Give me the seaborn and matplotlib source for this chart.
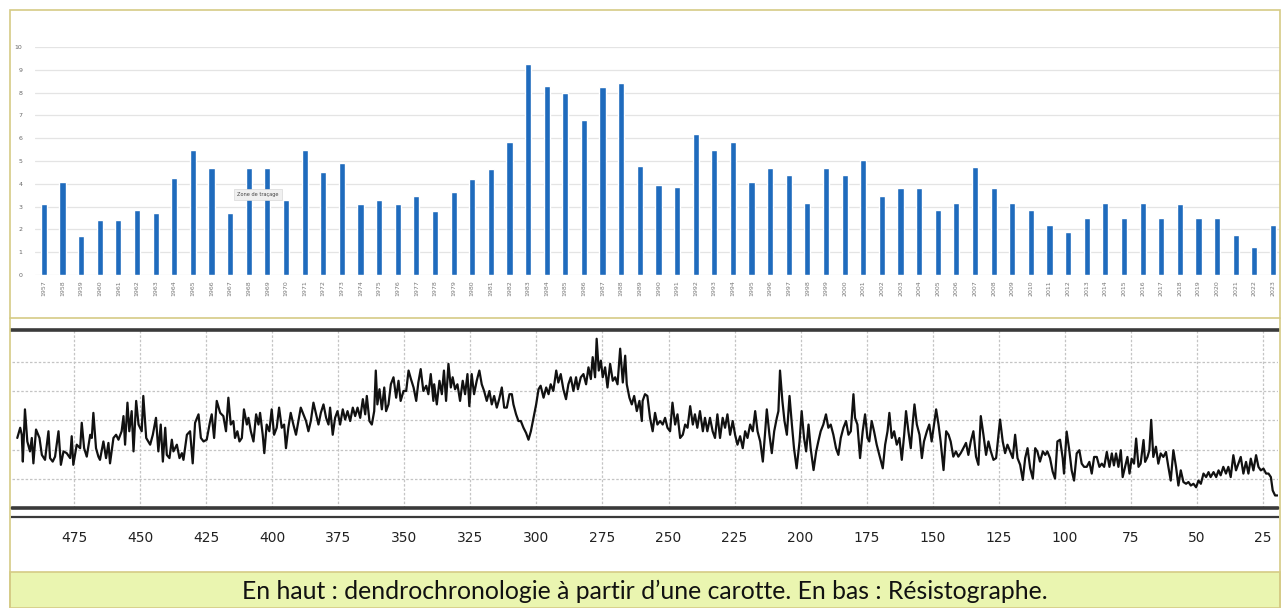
import numpy as np
import matplotlib
matplotlib.use("Agg")
import matplotlib.pyplot as plt
import seaborn as sns
from matplotlib.patches import Rectangle
from matplotlib.lines import Line2D
from matplotlib.ticker import MultipleLocator

# --- top panel: ring width per year ---
years = [str(y) for y in range(1957, 2024)]
widths = [3.1, 4.1, 1.7, 2.4, 2.4, 2.85, 2.7, 4.25, 5.5, 4.7,
          2.7, 4.7, 4.7, 3.3, 5.5, 4.5, 4.9, 3.1, 3.3, 3.1,
          3.45, 2.8, 3.65, 4.2, 4.65, 5.85, 9.25, 8.3, 8.0, 6.8,
          8.25, 8.4, 4.8, 3.95, 3.85, 6.2, 5.5, 5.85, 4.1, 4.7,
          4.4, 3.15, 4.7, 4.4, 5.05, 3.45, 3.8, 3.8, 2.85, 3.15,
          4.75, 3.8, 3.15, 2.85, 2.2, 1.9, 2.5, 3.15, 2.5, 3.15,
          2.5, 3.1, 2.5, 2.5, 1.75, 1.25, 2.2]

# --- bottom panel: resistograph trace ---
depth = [
    496.5, 495.4, 494.8, 494.4, 493.6, 492.7, 491.7, 491.0, 490.4, 489.4,
    488.1, 487.2, 486.0, 484.7, 484.1, 483.1, 482.2, 480.9, 480.0, 479.0,
    477.8, 476.5, 475.9, 475.3, 474.0, 472.7, 472.1, 471.2, 470.2, 468.9,
    468.3, 467.7, 466.7, 465.8, 465.2, 463.9, 462.9, 462.0, 461.4, 460.1,
    459.1, 458.2, 457.0, 456.3, 455.7, 454.8, 454.1, 453.2, 452.5, 451.5,
    450.6, 449.4, 448.8, 447.7, 446.9, 446.2, 445.2, 444.0, 443.1, 442.2,
    441.4, 440.5, 439.9, 438.9, 438.0, 437.4, 436.1, 435.1, 434.2, 433.6,
    432.3, 431.1, 430.1, 429.2, 427.9, 427.0, 426.0, 424.8, 423.5, 422.9,
    422.0, 421.0, 419.7, 418.5,
    417.5, 416.6, 415.7, 414.7, 414.1, 413.2, 412.4, 411.5, 410.7, 409.6,
    409.0, 408.1, 407.1, 406.1, 405.2, 404.6, 403.6, 403.0, 402.1, 401.1,
    400.2, 399.3, 398.3, 397.4, 396.4, 395.5, 394.8, 393.9, 393.0, 392.0,
    391.0, 390.1, 389.2, 388.2, 387.2, 386.3, 385.4, 384.4, 383.4, 382.5,
    381.6, 380.6, 379.6, 378.7, 378.1, 377.1, 376.2, 375.3, 374.3, 373.3,
    372.4, 371.5, 370.5, 369.5, 368.6, 367.7, 366.7, 365.7, 364.8, 364.2,
    363.2, 362.3, 361.4, 360.8, 360.2, 359.4, 358.5, 357.6, 356.9, 356.0,
    355.1, 354.1, 353.1, 352.2, 351.4, 350.3, 349.3, 348.4, 347.5, 346.5,
    345.5, 344.7, 343.8, 342.8, 341.7, 340.9, 340.0, 339.0,
    338.7, 337.7, 336.7, 335.8, 335.0, 334.2, 333.3, 332.4, 331.7, 330.8,
    329.9, 328.9, 327.9, 327.0, 326.1, 325.4, 324.5, 323.6, 322.6, 321.6,
    320.7, 319.8, 318.8, 317.8, 316.9, 316.0, 315.0, 314.1, 313.1, 312.2,
    311.2, 310.2, 309.3, 308.7, 307.7, 306.8, 305.9, 304.9, 303.9, 303.0,
    302.1, 301.1, 300.1, 299.2, 298.4, 297.3, 296.3, 295.4, 294.6, 293.6,
    292.5, 291.7, 290.8, 289.8, 288.8, 287.9, 287.0, 286.0, 285.0, 284.3,
    283.2, 282.2, 281.2, 280.3, 279.4, 278.7, 277.8, 277.2, 276.4, 275.6,
    274.9, 274.0, 273.1, 272.1, 271.1, 270.2, 269.3, 268.3, 267.3, 266.4,
    265.8, 264.8, 263.9, 263.0, 262.0, 261.0, 260.1,
    259.8, 258.9, 258.0, 257.0, 256.0, 255.1, 254.2, 253.2, 252.2, 251.3,
    250.4, 249.4, 248.5, 247.5, 246.6, 245.6, 244.6, 243.7, 242.8, 241.8,
    240.8, 240.0, 239.1, 238.1, 237.0, 236.2, 235.3, 234.3, 233.3, 232.4,
    231.5, 230.5, 229.5, 228.6, 227.7, 226.7, 225.7, 224.8, 223.9, 222.9,
    221.9, 221.0, 220.1, 219.1, 218.1, 217.2, 216.3, 215.3, 214.3, 213.4,
    212.8, 211.8, 210.9, 210.0, 209.0, 208.4, 207.8, 206.9, 206.1, 205.2,
    204.2, 203.3, 202.5, 201.5, 200.4, 199.6, 198.7, 197.9, 197.0, 196.2,
    195.1, 194.1, 193.3, 192.4, 191.4, 190.4, 189.5, 188.6, 187.6, 186.6,
    185.7, 184.8, 183.8, 182.8, 181.9, 181.0, 180.0,
    179.4, 178.5, 177.5, 176.5, 175.6, 174.7, 174.0, 173.1, 172.2, 171.2,
    170.2, 168.9, 168.0, 167.1, 166.4, 165.5, 164.6, 163.6, 162.6, 161.7,
    160.8, 160.1, 159.2, 158.3, 157.6, 156.9, 156.0, 155.0, 154.1, 153.3,
    152.2, 151.3, 150.4, 149.5, 148.7, 147.8, 147.0, 145.9, 144.9, 144.0,
    143.2, 142.2, 141.2, 140.3, 139.4, 138.4, 137.4, 136.5, 135.6, 134.6,
    133.6, 132.7, 131.8, 130.8, 129.8, 128.9, 128.0, 127.0, 126.0, 125.1,
    124.5, 123.5, 122.6, 121.7, 120.7, 119.7, 118.8, 117.9, 116.9, 115.9,
    115.0, 114.1, 113.1, 112.1, 111.2, 110.4, 109.4, 108.3, 107.4, 106.6,
    105.6, 104.6, 103.7, 102.8, 101.8, 100.8,
    100.3, 99.3, 98.3, 97.4, 96.5, 95.5, 94.5, 93.6, 92.7, 91.7,
    90.7, 89.8, 88.9, 87.9, 86.9, 86.0, 85.1, 84.1, 83.1, 82.2,
    81.4, 80.6, 79.7, 78.8, 78.1, 77.2, 76.3, 75.5, 74.7, 73.8,
    73.0, 72.1, 71.3, 70.2, 69.6, 68.7, 68.0, 67.3, 66.5, 65.5,
    64.6, 63.7, 62.7, 61.7, 60.8, 59.9, 58.9, 57.9, 57.0, 56.1,
    55.1, 54.1, 53.2, 52.3, 51.3, 50.3, 49.4, 48.5, 47.5, 46.5,
    45.6, 44.8, 43.7, 42.7, 41.8, 41.0, 40.0, 39.0, 38.1, 37.2,
    36.2, 35.2, 34.3, 33.4, 32.4, 31.4, 30.5, 29.6, 28.6, 27.6,
    26.7, 25.8, 24.8, 23.8, 22.9, 22.0, 21.3, 20.4, 19.5,
]
amplitude = [
    2.40, 2.75, 2.51, 1.59, 3.38, 2.28, 1.94, 2.40, 1.53, 2.69,
    2.40, 1.82, 1.65, 2.63, 1.71, 1.59, 1.76, 2.63, 1.48, 1.94,
    1.88, 1.71, 2.46, 1.48, 2.17, 2.05, 2.92, 2.05, 1.76, 2.51,
    2.40, 3.26, 2.05, 1.76, 1.65, 2.28, 1.71, 2.23, 1.53, 2.40,
    2.51, 2.34, 2.63, 3.15, 2.17, 3.61, 2.63, 3.32, 1.94, 3.67,
    2.86, 2.63, 3.84, 2.40, 2.28, 2.17, 2.51, 3.09, 1.94, 2.86,
    1.59, 2.75, 1.82, 1.71, 2.34, 1.94, 2.17, 1.71, 1.88, 1.65,
    2.51, 2.63, 1.53, 2.92, 3.21, 2.40, 2.28, 2.34, 2.98, 3.21,
    2.40, 3.67, 3.26, 3.15,
    2.63, 3.78, 2.86, 2.98, 2.40, 2.63, 2.28, 2.40, 3.38, 2.86,
    3.09, 2.63, 2.28, 3.21, 2.86, 3.26, 2.51, 1.88, 2.86, 2.63,
    3.38, 2.51, 2.75, 3.44, 2.75, 2.86, 2.05, 2.75, 3.26, 2.86,
    2.51, 2.98, 3.44, 3.21, 2.98, 2.63, 2.98, 3.61, 3.21, 2.86,
    3.26, 3.55, 3.09, 2.86, 3.44, 2.51, 3.09, 3.32, 2.86, 3.38,
    3.03, 3.32, 2.98, 3.44, 3.15, 3.44, 3.09, 3.73, 3.21, 3.84,
    2.98, 2.86, 3.32, 4.71, 3.55, 4.07, 3.38, 4.13, 3.32, 3.55,
    4.24, 4.48, 3.78, 4.36, 3.67, 4.01, 4.01, 4.71, 4.42, 4.13,
    3.67, 4.30, 4.76, 4.01, 4.19, 3.90, 4.59, 3.67,
    4.24, 3.55, 4.36, 3.90, 4.71, 3.67, 4.94, 4.13, 4.48, 4.07,
    4.24, 3.67, 4.36, 3.90, 4.59, 3.49, 4.59, 3.90, 4.36, 4.71,
    4.24, 4.01, 3.67, 4.01, 3.55, 3.84, 3.44, 3.73, 4.13, 3.44,
    3.44, 3.90, 3.90, 3.55, 3.21, 2.98, 2.98, 2.75, 2.57, 2.34,
    2.63, 3.09, 3.55, 4.07, 4.19, 3.78, 4.13, 3.90, 4.24, 4.01,
    4.71, 4.30, 4.59, 4.07, 3.73, 4.24, 4.48, 4.01, 4.48, 4.07,
    4.48, 4.59, 4.24, 4.82, 4.42, 5.17, 4.48, 5.80, 4.71, 5.05,
    4.48, 4.82, 4.13, 4.94, 4.36, 4.48, 4.24, 5.46, 4.30, 5.22,
    4.24, 3.78, 3.55, 3.84, 3.32, 3.67, 2.98,
    3.67, 3.90, 3.84, 3.09, 2.63, 3.26, 2.86, 2.98, 2.86, 3.09,
    2.75, 2.63, 3.61, 2.86, 3.21, 2.40, 2.51, 2.86, 2.75, 3.49,
    2.86, 3.21, 2.75, 3.32, 2.63, 3.09, 2.63, 3.09, 2.63, 2.40,
    3.21, 2.40, 3.09, 2.75, 3.21, 2.51, 2.98, 2.51, 2.17, 2.46,
    2.05, 2.63, 2.40, 2.86, 2.63, 3.32, 2.63, 2.28, 1.59, 2.63,
    3.38, 2.51, 1.88, 2.63, 3.09, 3.32, 4.71, 3.67, 2.98, 2.51,
    3.84, 2.86, 2.05, 1.36, 2.28, 3.32, 2.40, 1.94, 2.86, 2.05,
    1.30, 1.94, 2.28, 2.63, 2.86, 3.21, 2.75, 2.86, 2.51, 2.05,
    1.82, 2.40, 2.75, 2.98, 2.51, 2.63, 3.90,
    3.09, 2.86, 1.71, 2.63, 3.21, 2.40, 2.28, 2.98, 2.63, 2.17,
    1.82, 1.36, 2.17, 2.63, 3.26, 2.40, 2.63, 2.17, 2.40, 1.65,
    2.51, 3.32, 2.63, 2.05, 2.86, 3.55, 2.86, 2.51, 1.71, 2.28,
    2.63, 2.86, 2.28, 2.86, 3.38, 2.86, 2.28, 1.30, 2.63, 2.51,
    2.28, 1.76, 1.94, 1.76, 1.88, 2.05, 2.23, 1.82, 2.28, 2.63,
    1.76, 1.48, 3.15, 2.51, 1.82, 2.28, 1.94, 1.65, 1.71, 2.51,
    3.03, 2.28, 1.88, 2.17, 1.94, 1.71, 2.51, 1.71, 1.48, 0.96,
    1.71, 2.05, 1.36, 1.01, 2.05, 1.94, 1.59, 1.94, 1.82, 1.94,
    1.71, 1.25, 1.01, 2.28, 2.34, 1.71,
    1.18, 2.62, 1.98, 1.29, 0.94, 1.87, 1.98, 1.52, 1.41, 1.41,
    1.58, 1.18, 1.75, 1.75, 1.41, 1.52, 1.41, 1.92, 1.41, 1.87,
    1.46, 1.87, 1.41, 1.98, 1.06, 1.41, 1.75, 1.18, 1.69, 1.52,
    2.38, 1.41, 1.52, 2.33, 1.58, 1.75, 1.98, 3.02, 1.75, 2.10,
    1.52, 1.87, 1.75, 1.92, 1.41, 0.94, 1.98, 1.41, 0.77, 1.29,
    0.89, 0.83, 0.89, 0.77, 0.83, 0.71, 0.94, 0.83, 1.18, 1.06,
    1.23, 1.06, 1.23, 1.06, 1.29, 1.12, 1.41, 1.18, 1.41, 1.06,
    1.81, 1.29, 1.52, 1.75, 1.18, 1.58, 1.18, 1.69, 1.29, 1.81,
    1.41, 1.29, 1.35, 1.18, 1.18, 1.06, 0.60, 0.43, 0.43,
]

caption = "En haut : dendrochronologie à partir d\u2019une carotte. En bas : Résistographe."

W, H = 1282, 608
tan = "#d5cb85"
bar_blue = "#1f6bbd"

sns.set_style("white")
fig = plt.figure(figsize=(W / 100, H / 100), dpi=100)


def box(x0, y0, x1, y1):
    # pixel box -> figure fraction [left, bottom, width, height]
    return [x0 / W, 1 - y1 / H, (x1 - x0) / W, (y1 - y0) / H]


# top bar chart
ax1 = fig.add_axes(box(35, 47, 1280, 275))
sns.barplot(x=years, y=widths, color=bar_blue, width=0.33, saturation=1,
            ax=ax1, zorder=3)
ax1.set_xlim(-0.48, 66.38)
ax1.set_ylim(0, 10)
ax1.set_yticks(range(0, 11))
ax1.yaxis.grid(True, color="#e4e4e4", lw=0.9)
ax1.set_axisbelow(True)
for s in ax1.spines.values():
    s.set_visible(False)
ax1.tick_params(axis="y", length=0, labelsize=4.5, labelcolor="#666666", pad=9)
ax1.tick_params(axis="x", length=0, labelsize=4.5, labelcolor="#777777",
                rotation=90, pad=4)
ax1.set_xlabel("")
ax1.set_ylabel("")
ax1.text(11.5, 3.55, "Zone de traçage", fontsize=3.6, color="#444444",
         ha="center", va="center", zorder=5,
         bbox=dict(boxstyle="square,pad=0.6", fc="#f0f0f0", ec="#d8d8d8", lw=0.5))

# bottom resistograph
ax2 = fig.add_axes(box(12, 330, 1278, 508))
sns.lineplot(x=depth, y=amplitude, ax=ax2, color="#111111", lw=1.6,
             estimator=None, sort=False)
ax2.set_xlim(498.5, 19.3)
ax2.set_ylim(0, 6.1)
ax2.xaxis.set_major_locator(MultipleLocator(25))
ax2.xaxis.set_minor_locator(MultipleLocator(5))
ax2.set_yticks([1, 2, 3, 4, 5])
ax2.grid(True, which="major", ls=(0, (2, 1.5)), color="#c4c4c4", lw=0.9)
ax2.set_axisbelow(True)
ax2.spines["left"].set_visible(False)
ax2.spines["right"].set_visible(False)
ax2.spines["top"].set_linewidth(2.6)
ax2.spines["top"].set_color("#3a3a3a")
ax2.spines["bottom"].set_position(("outward", 6.5))
ax2.spines["bottom"].set_linewidth(1.6)
ax2.spines["bottom"].set_color("#3a3a3a")
ax2.axhline(0, color="#3a3a3a", lw=2.6, clip_on=False)
ax2.tick_params(axis="y", left=False, labelleft=False)
ax2.tick_params(axis="x", which="major", direction="out", length=5, width=1.2,
                color="#333333", labelsize=10, labelcolor="#222222", pad=5)
ax2.tick_params(axis="x", which="minor", direction="out", length=3, width=1.2,
                color="#333333")
ax2.set_xlabel("")
ax2.set_ylabel("")

# frames and caption band
fig.add_artist(Rectangle((10 / W, 1 - 318 / H), 1270 / W, 308 / H,
                         transform=fig.transFigure, fill=False, ec=tan, lw=1.2))
fig.add_artist(Line2D([10 / W, 10 / W], [1 - 318 / H, 0], transform=fig.transFigure,
                      color=tan, lw=1.2))
fig.add_artist(Line2D([1280 / W, 1280 / W], [1 - 318 / H, 0], transform=fig.transFigure,
                      color=tan, lw=1.2))
fig.add_artist(Rectangle((10 / W, 0), 1270 / W, 36 / H, transform=fig.transFigure,
                         fc="#eaf5b0", ec=tan, lw=1.2))
fig.text(645 / W, 1 - 591 / H, caption, ha="center", va="center",
         fontsize=17.8, family="Lato", color="#111111")

fig.savefig("out.png", dpi=100)
